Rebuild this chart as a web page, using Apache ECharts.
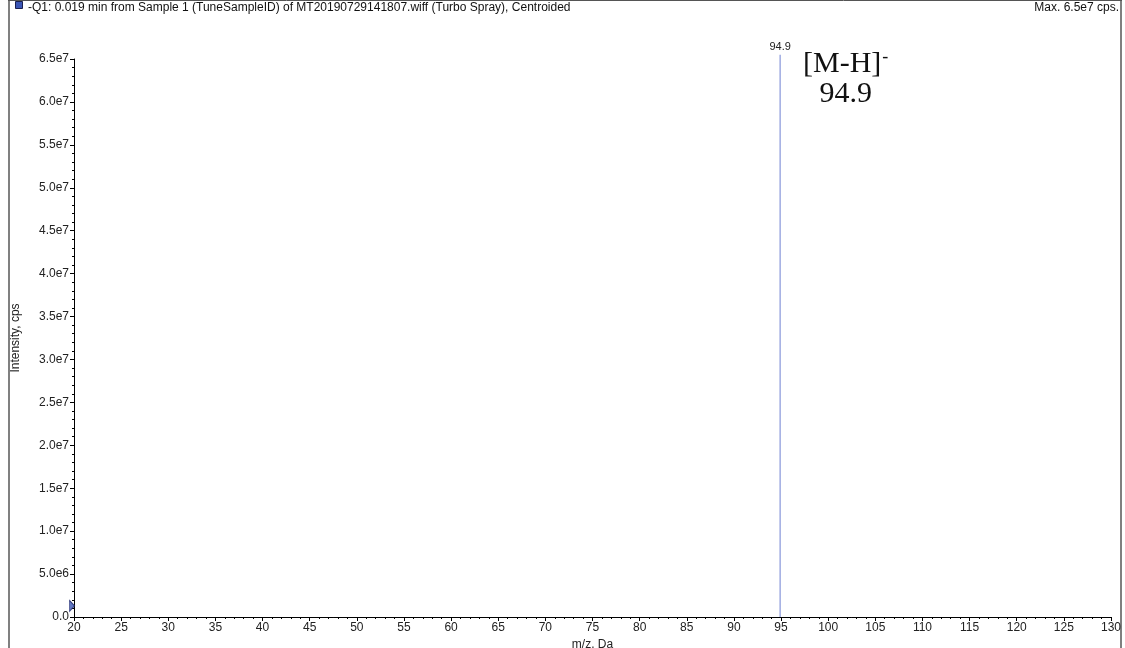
<!DOCTYPE html>
<html>
<head>
<meta charset="utf-8">
<title>-Q1 spectrum</title>
<script src="https://cdn.jsdelivr.net/npm/echarts@6/dist/echarts.min.js"></script>
<style>
  html, body { margin: 0; padding: 0; background: #fff; }
  #chart { width: 1125px; height: 648px; }
</style>
</head>
<body>
<div id="chart"></div>
<script>
// Centroided peaks: m/z (Da) and intensity (cps)
const peakMz = [94.9];
const peakIntensity = [6.55e7];

// Threshold marker on the intensity axis
const markerMz = [20];
const markerIntensity = [1.3e6];

// Axis ranges
const xRange = [20, 130];
const xStep = 5;
const yRange = [0, 6.5e7];
const yStep = 5e6;

const headerText = '-Q1: 0.019 min from Sample 1 (TuneSampleID) of MT20190729141807.wiff (Turbo Spray), Centroided';
const maxText = 'Max. 6.5e7 cps.';
const ionLabel = '[M-H]';
const ionCharge = '-';
const ionMass = '94.9';

const FONT = '"Liberation Sans", Arial, sans-serif';
const SERIF = '"Liberation Serif", "Times New Roman", serif';

const chart = echarts.init(document.getElementById('chart'), null, { renderer: 'canvas' });

function fmtIntensity(v) {
  if (v === 0) return '0.0';
  return v.toExponential(1).replace('e+', 'e');
}

const option = {
  animation: false,
  backgroundColor: '#ffffff',
  grid: { left: 74, right: 14, top: 59, bottom: 31, containLabel: false, outerBoundsMode: 'none' },
  xAxis: {
    type: 'value',
    min: xRange[0], max: xRange[1], interval: xStep,
    name: 'm/z, Da', nameLocation: 'middle', nameGap: 18,
    nameTextStyle: { fontFamily: FONT, fontSize: 12, color: '#222' },
    axisLine: { show: true, onZero: false, lineStyle: { color: '#000', width: 1 } },
    axisTick: { show: true, inside: false, length: 4, lineStyle: { color: '#000' } },
    minorTick: { show: true, splitNumber: 5, length: 2, lineStyle: { color: '#000' } },
    axisLabel: { fontFamily: FONT, fontSize: 12, color: '#222', margin: 5 },
    splitLine: { show: false }
  },
  yAxis: {
    type: 'value',
    min: yRange[0], max: yRange[1], interval: yStep,
    name: 'Intensity, cps', nameLocation: 'middle', nameGap: 52, nameRotate: 90,
    nameTextStyle: { fontFamily: FONT, fontSize: 12, color: '#222' },
    axisLine: { show: true, onZero: false, lineStyle: { color: '#000', width: 1 } },
    axisTick: { show: true, inside: false, length: 4, lineStyle: { color: '#000' } },
    minorTick: { show: true, splitNumber: 5, length: 2, lineStyle: { color: '#000' } },
    axisLabel: { fontFamily: FONT, fontSize: 12, color: '#222', margin: 5, formatter: fmtIntensity },
    splitLine: { show: false }
  },
  series: [
    {
      type: 'bar',
      barWidth: 1,
      clip: false,
      data: peakMz.map((m, i) => [m, peakIntensity[i]]),
      itemStyle: { color: '#6f80d2' },
      label: {
        show: true, position: 'top', distance: 2,
        fontFamily: FONT, fontSize: 11, color: '#222',
        formatter: p => p.value[0].toFixed(1)
      }
    },
    {
      type: 'scatter',
      clip: false,
      data: markerMz.map((m, i) => [m, markerIntensity[i]]),
      symbol: 'triangle',
      symbolSize: [11, 5],
      symbolRotate: -90,
      symbolOffset: [-2, 0],
      itemStyle: { color: '#3b56b4', borderColor: '#1c2468', borderWidth: 1 },
      z: 5
    }
  ],
  graphic: [
    // page frame
    { type: 'line', shape: { x1: 9, y1: 0, x2: 9, y2: 648 }, style: { stroke: '#808080', lineWidth: 2 } },
    { type: 'line', shape: { x1: 1121, y1: 0, x2: 1121, y2: 648 }, style: { stroke: '#808080', lineWidth: 2 } },
    { type: 'line', shape: { x1: 8, y1: 0.5, x2: 1122, y2: 0.5 }, style: { stroke: '#555', lineWidth: 1 } },
    // header
    { type: 'rect', shape: { x: 15.5, y: 1.5, width: 7, height: 7 }, style: { fill: '#3a55b5', stroke: '#1a1f50', lineWidth: 1 } },
    { type: 'text', left: 28, top: 2, style: { text: headerText, font: '12px ' + FONT, fill: '#111' } },
    { type: 'text', right: 6, top: 2, style: { text: maxText, font: '12px ' + FONT, fill: '#111', align: 'right' } },
    // ion annotation
    {
      type: 'text', left: 803, top: 48,
      style: {
        text: '{a|' + ionLabel + '}{c|' + ionCharge + '}\n{b|' + ionMass + '}',
        align: 'center',
        rich: {
          a: { fontFamily: SERIF, fontSize: 30, fill: '#111', lineHeight: 31, verticalAlign: 'bottom' },
          c: { fontFamily: SERIF, fontSize: 18, fill: '#111', lineHeight: 31, verticalAlign: 'top', padding: [0, 0, 16, 1] },
          b: { fontFamily: SERIF, fontSize: 30, fill: '#111', lineHeight: 31, align: 'center' }
        }
      }
    }
  ]
};

chart.setOption(option);
</script>
</body>
</html>
